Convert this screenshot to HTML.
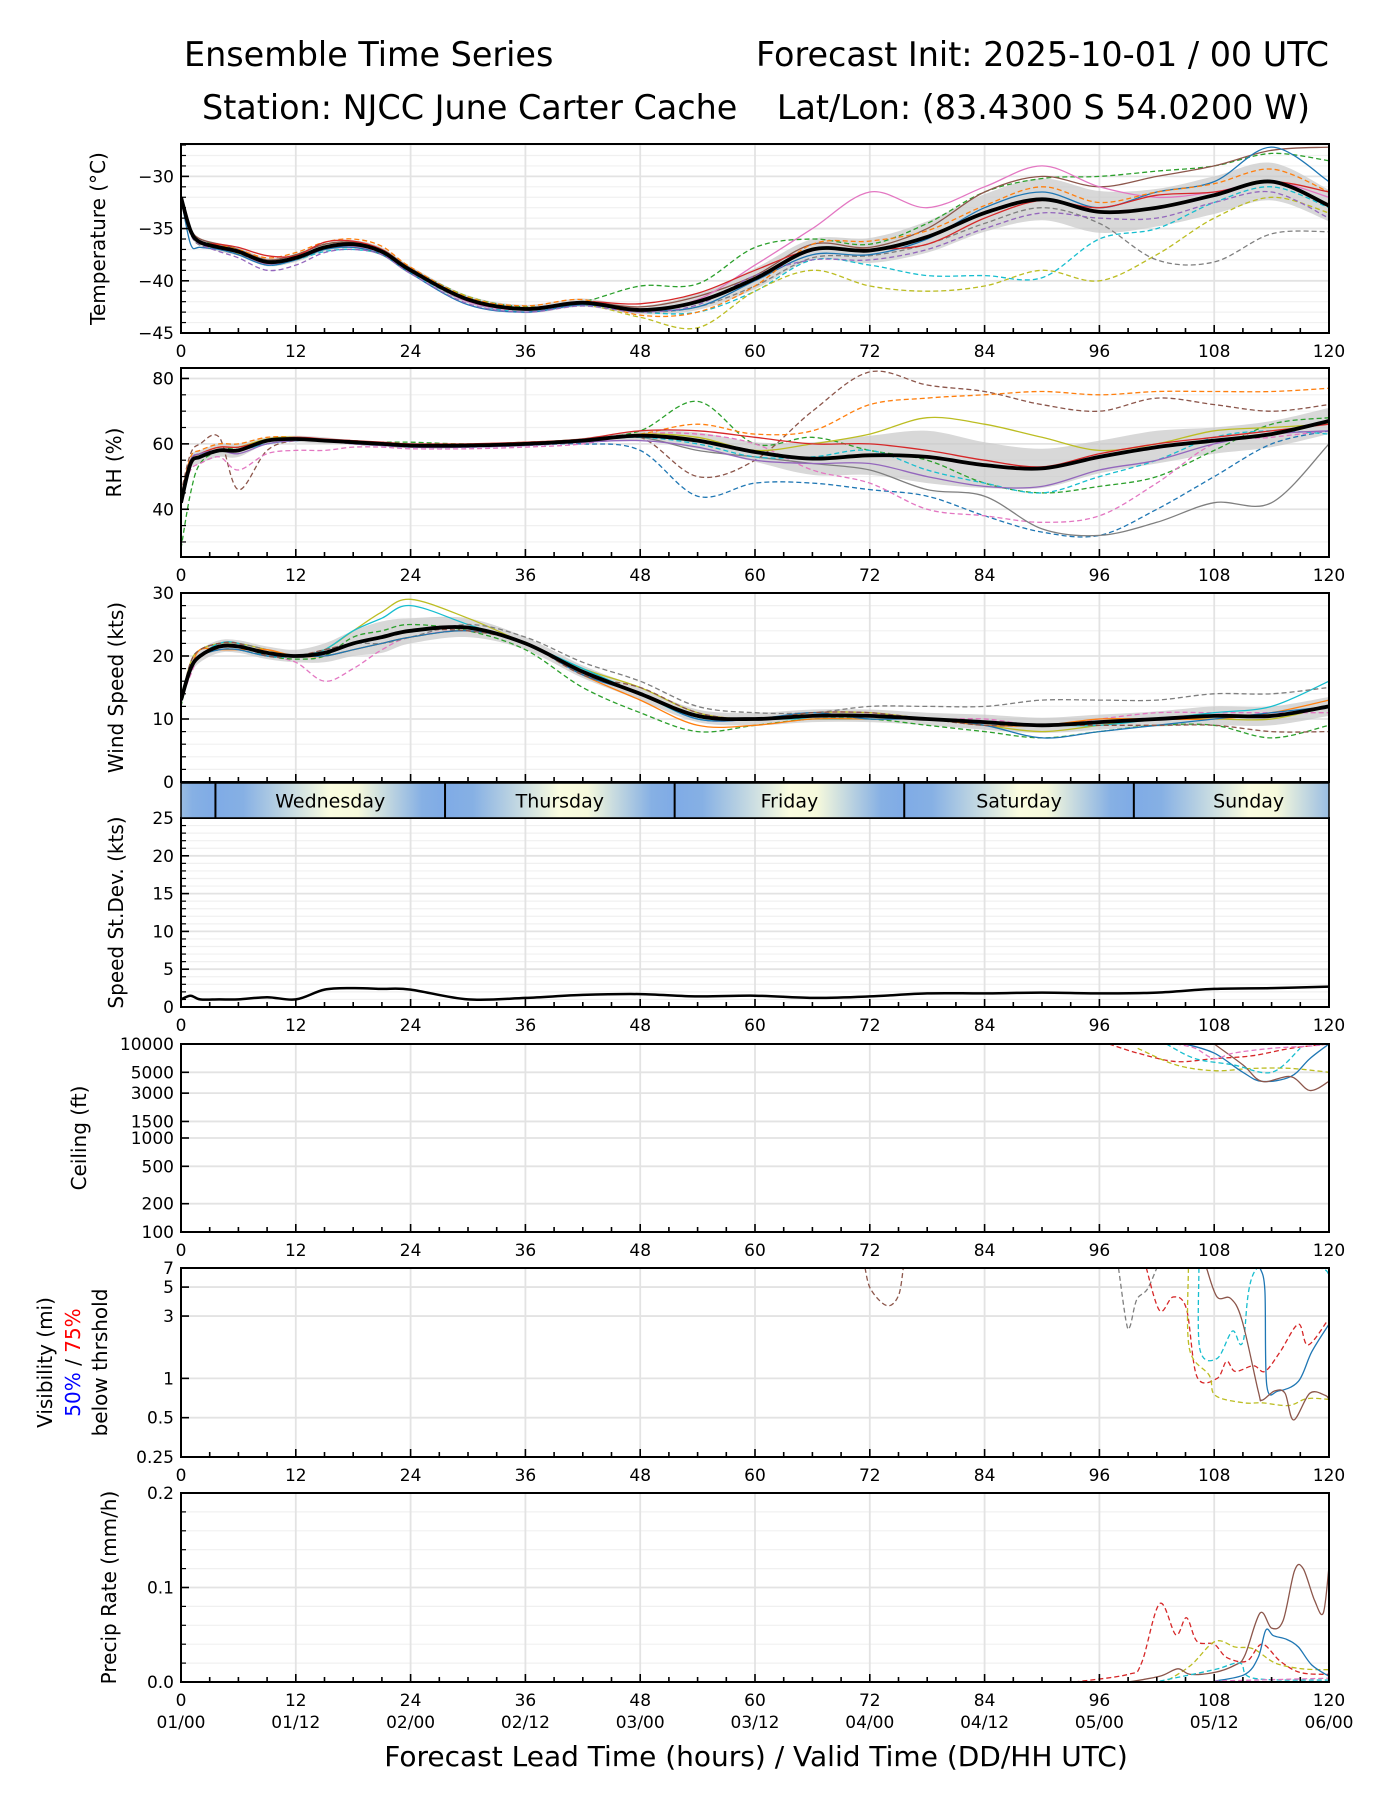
<!DOCTYPE html>
<html><head><meta charset="utf-8">
<style>
html,body{margin:0;padding:0;background:#fff;}
svg{display:block;font-family:"DejaVu Sans","Liberation Sans",sans-serif;}
</style></head>
<body>
<svg id="fig" width="1400" height="1800" viewBox="0 0 1400 1800">
<text x="184" y="66" font-size="33.4">Ensemble Time Series</text>
<text x="1329" y="66" font-size="33.4" text-anchor="end">Forecast Init: 2025-10-01 / 00 UTC</text>
<text x="202" y="119" font-size="33.4">Station: NJCC June Carter Cache</text>
<text x="1310" y="119" font-size="33.4" text-anchor="end">Lat/Lon: (83.4300 S 54.0200 W)</text>
<text x="756" y="1766" font-size="28" text-anchor="middle">Forecast Lead Time (hours) / Valid Time (DD/HH UTC)</text>
</svg>
<script>
const HRS = [0,1,2,4,6,9,12,15,18,21,24,30,36,42,48,54,60,66,72,78,84,90,96,102,108,114,120];
const xTicks = [0,12,24,36,48,60,72,84,96,108,120];
const dateLabels = ["01/00","01/12","02/00","02/12","03/00","03/12","04/00","04/12","05/00","05/12","06/00"];
const dayNames = ["Wednesday","Thursday","Friday","Saturday","Sunday"];
const dayBounds = [-20.4,3.6,27.6,51.6,75.6,99.6,123.6];

// Temperature
const tempMean = [-32,-35.2,-36.3,-36.8,-37.2,-38.2,-37.8,-36.8,-36.5,-37.2,-39,-41.8,-42.7,-42.1,-42.8,-42,-39.8,-37,-37.1,-35.8,-33.5,-32.2,-33.4,-33,-31.8,-30.5,-32.8];
const tempSpread = [0.3,0.4,0.4,0.4,0.4,0.4,0.4,0.4,0.4,0.4,0.4,0.4,0.4,0.4,0.4,0.8,1,1,1.2,1.5,1.8,2,2,1.8,1.8,1.8,1.5];
const tempM1 = [-32,-35,-36.2,-36.5,-37,-38,-37.5,-36.5,-36.3,-37,-38.8,-41.5,-42.5,-42,-40.5,-40.3,-36.8,-36,-36.5,-34.5,-31.5,-30.2,-30,-29.5,-29,-27.8,-28.5];
const tempM2 = [-32,-35.5,-36.5,-37,-37.3,-38.5,-38,-37.2,-37,-37.5,-39.2,-42,-43,-42.3,-43,-43,-41,-38,-38.5,-39.5,-39.5,-39.7,-36,-35,-32.5,-31,-33];
const tempM3 = [-32,-35.3,-36.5,-37,-37.4,-38.4,-38,-37,-36.8,-37.5,-39,-41.5,-42.7,-42.3,-43.5,-44.5,-41,-39,-40.5,-41,-40.5,-39,-40,-37.5,-34,-32,-33.5];
const tempM4 = [-32,-35,-36,-36.5,-37,-38,-37.5,-36.5,-36.3,-37,-38.8,-41.7,-42.6,-42,-42.5,-41.5,-39.5,-36.5,-36.8,-35,-31.5,-30,-31,-30,-29,-27.5,-27.2];
const tempM5 = [-32,-35.5,-36.6,-37,-37.5,-38.3,-37.9,-37,-36.8,-37.4,-39.1,-42,-42.8,-42.2,-43,-42.5,-40.5,-37.8,-37.6,-36.5,-34.5,-33,-34.5,-38,-38.2,-35.5,-35.3];
const tempM6 = [-32,-35.2,-36.4,-36.8,-37.3,-38.4,-37.9,-36.9,-36.7,-37.3,-39,-42,-42.8,-42.1,-42.8,-41.8,-38.5,-35,-31.5,-33,-31,-29,-31,-32,-31.5,-30.5,-32];
const tempM7 = [-32,-36.5,-36.8,-37,-37.5,-38.5,-38,-37,-36.8,-37.5,-39.3,-42.3,-43,-42.3,-42.8,-42.5,-40,-37.5,-37.5,-36,-33,-31.5,-33,-31.5,-30.5,-27.2,-30.5];
const tempM8 = [-32,-35,-36.2,-36.6,-37,-37.8,-37.3,-36.3,-36,-36.7,-38.7,-41.6,-42.4,-41.8,-43.3,-43,-40.5,-36.5,-36.2,-35.2,-32.8,-31,-32.5,-31.5,-30.7,-29.3,-31.5];
const tempM9 = [-32,-35.2,-36.3,-36.5,-36.8,-37.6,-37.6,-36.3,-36.2,-37,-38.9,-41.8,-42.6,-42,-42.2,-41.2,-39,-37,-37,-36.5,-34,-32.3,-33,-31.8,-31.5,-30.5,-31.5];
const tempM10 = [-32,-35.5,-36.5,-37.2,-37.8,-39,-38.5,-37.3,-37,-37.5,-39.3,-42.2,-43,-42.4,-43,-42.3,-39.5,-38,-38,-37,-35,-33.5,-34,-34,-32.5,-31.5,-34];

// RH
const rhMean = [42,54,56,58,58,61,61.5,61,60.5,60,59.5,59.5,60,61,62.5,61,57.5,55.5,56.5,56,53.5,52.5,56,59,61,63,67];
const rhSpread = [2,2,2,2,2,1,1,1,0.5,0.5,0.5,0.5,0.5,0.8,1.5,2.5,3,5,6,8,7,6,5,5,4,4,4];
const rhM1 = [28,45,54,58,59,61,62,61,60.5,60.5,60.5,60,60.5,61.5,64,73,60,62,58,55,48,45,47,50,58,66,68];
const rhM2 = [45,55,57,58,58,60,61,61,60,59.5,59,59,59.5,60,58,44,48,48,46,44,38,33,32,40,50,60,64];
const rhM3 = [45,57,60,62,46,58,61,61,61,60,59,59,60,61,62,50,55,70,82,78,76,72,70,74,72,70,72];
const rhM4 = [44,52,54,56,52,57,58,58,59,59,58.5,58.5,59,60,63,63,60,52,48,40,38,36,38,48,60,62,64];
const rhM5 = [44,56,58,60,60,62,62,61,60,59.5,59,59.5,60,61,63,66,63,64,72,74,75,76,75,76,76,76,77];
const rhM6 = [44,55,57,58,58,61,61.5,61,60.5,60,59.5,59.5,60,61,62,58,56,54,52,46,44,34,32,36,42,42,60];
const rhM7 = [44,55,57,59,59,61.5,62,61,60.5,60,59.5,59.5,60,61,63,62,58,60,63,68,66,62,58,60,64,65,66];
const rhM8 = [44,55,57,58,58,60,61,61,60,59.5,59,59,60,61,62,60,56,56,58,52,48,45,50,55,62,64,63];
const rhM9 = [44,55,57,59,59,61,62,61.5,61,60.5,60,60,60.5,61.5,64,64,62,60,60,58,55,53,57,60,62,64,66];
const rhM10 = [44,55,57,58,57,60,61,61,60,59.5,59,59,59.5,60.5,61,59,55,54,54,50,47,47,52,55,60,63,64];

// Wind
const windMean = [13,18,20,21.5,21.5,20.5,20,20.5,22,23,24,24.5,22,17.5,14,10.5,10,10.5,10.5,10,9.5,9,9.5,10,10.5,10.5,12];
const windSpread = [1,1,1,1,1,1,1,1.5,2,2.5,2,1.5,1,1,1,1,1,1,1,1,1.2,1.2,1.2,1.2,1.5,1.5,1.5];
const windM1 = [13,19,21,22,22,21,20,21,24,27,29,26,22,18,15,11,10,11,11,10,9,8,9,10,10,10,12];
const windM2 = [13,17,20,21,21,20,19,16,18,21,23,24,22,17,14,10,10,11,11,10,10,9,10,11,11,11,11];
const windM3 = [12,18,20,21,21,20,19.5,20,23,24,25,24,21,15,11,8,9,10,10,9,8,7,8,9,9,7,9];
const windM4 = [13,18,20,22,22,20,20,21,24,26,28,25,22,18,14,10,10,10,10,10,9,9,9,10,11,12,16];
const windM5 = [13,19,21,22,22,21,20,21,22,22,23,25,23,19,16,12,11,11,12,12,12,13,13,13,14,14,15];
const windM6 = [13,18,21,21,21,21,20,20,21,22,23,24,22,17,13,9,9,10,10,10,9,9,10,10,10,11,13];
const windM7 = [13,18,20,21,21,20,20,20,21,22,23,24,22,17,14,10,10,11,10,10,9,7,8,9,10,11,12];
const windM8 = [13,19,21,22,22,20,20,21,22,23,24,24,22,17,15,11,10,11,11,10,9,9,9,9,9,8,8];

// Speed std dev
const sdVals = [1,1.5,1,1,1,1.3,1,2.3,2.5,2.4,2.3,1,1.2,1.6,1.7,1.4,1.5,1.2,1.4,1.8,1.8,1.9,1.8,1.9,2.4,2.5,2.7];

// Ceiling (ft)
const ceilH1 = [97,100,104,108,112,116,120];
const ceilV1 = [10000,8000,6500,7000,7500,9000,10000];
const ceilH2 = [100,104,108,112,116,120];
const ceilV2 = [9000,6000,5200,5500,5500,5000];
const ceilH3 = [105,108,111,113,116,118,120];
const ceilV3 = [10000,8000,5000,4000,4500,7000,10000];
const ceilH4 = [108,111,113,116,118,120];
const ceilV4 = [10000,6000,4000,4500,3200,4000];
const ceilH5 = [103,106,110,114,117];
const ceilV5 = [10000,7000,6000,5000,9000];
const ceilH6 = [104,106,108,110,114,118,120];
const ceilV6 = [10000,9000,7000,8000,9000,9500,10000];

// Visibility (mi)
const visH1 = [71.5,72.1,73.8,75,75.5];
const visV1 = [7,4.8,3.6,4.3,7];
const visH2 = [98,98.8,99.2,99.9,101,102];
const visV2 = [7,2.7,2.5,4,4.8,7];
const visH3 = [100.9,102.3,103.7,105.1,106.2,108.3,109.3,110.2,112.1,113.3,114.9,116.8,117.8,119.9];
const visV3 = [7,3.3,4.2,3.4,1.03,1.0,1.35,1.13,1.25,1.13,1.6,2.6,1.8,2.8];
const visH4 = [105.3,105.4,107.5,108.1,111.1,113,115.8,117.7,120];
const visV4 = [7,1.7,1.05,0.74,0.65,0.65,0.62,0.7,0.69];
const visH5 = [106.4,106.5,108.3,109.9,111,112.5,119,120];
const visV5 = [7,1.68,1.42,2.3,1.9,7,7,5.8];
const visH6 = [112.8,113.3,113.5,114.7,116.8,118.2,120];
const visV6 = [7,4.7,0.88,0.8,0.95,1.6,2.6];
const visH7 = [107.2,108.3,109.7,110.9,112.6,113,114.3,115.4,116.3,118,119.6,120];
const visV7 = [7,4.2,4.1,2.8,0.8,0.68,0.8,0.77,0.48,0.77,0.74,0.69];

// Precip rate (mm/h)
const prH1 = [93.4,99,100.4,102.3,104,105.1,106.2,108,109.3,111.4,113,114.9,117,120];
const prV1 = [0,0.008,0.02,0.083,0.05,0.068,0.043,0.04,0.026,0.022,0.04,0.022,0.01,0.008];
const prH2 = [103.2,105.6,108.1,110.2,112.1,114.4,117.2,120];
const prV2 = [0.002,0.018,0.043,0.037,0.035,0.02,0.014,0.013];
const prH3 = [99,102.3,104.2,105.5,108,110.2,111.2,112.8,114,115.2,116.4,117.3,118.5,119.4,120];
const prV3 = [0,0.006,0.014,0.008,0.01,0.018,0.028,0.073,0.057,0.065,0.118,0.12,0.086,0.073,0.122];
const prH4 = [108,111.2,112.6,113.4,114.2,115.6,116.8,118.2,120];
const prV4 = [0.001,0.008,0.026,0.055,0.049,0.045,0.037,0.018,0.006];
const prH5 = [102.3,108,110.7,112.1,120];
const prV5 = [0.001,0.013,0.02,0.004,0.002];
const prH6 = [108,120];
const prV6 = [0.001,0.004];

const C = {blue:'#1f77b4',orange:'#ff7f0e',green:'#2ca02c',red:'#d62728',purple:'#9467bd',brown:'#8c564b',pink:'#e377c2',gray:'#7f7f7f',olive:'#bcbd22',cyan:'#17becf'};
const NS = 'http://www.w3.org/2000/svg';
const svg = document.getElementById('fig');
const X0 = 181, X1 = 1329;
function xs(h){ return X0 + h/120*(X1-X0); }
function ys(p,v){
  if(p.log){ return p.bot - (Math.log(v)-Math.log(p.ymin))/(Math.log(p.ymax)-Math.log(p.ymin))*(p.bot-p.top); }
  return p.bot - (v-p.ymin)/(p.ymax-p.ymin)*(p.bot-p.top);
}
function mk(tag, attrs, parent){
  const el = document.createElementNS(NS, tag);
  for(const k in attrs) el.setAttribute(k, attrs[k]);
  (parent||svg).appendChild(el);
  return el;
}
function smooth(pts){
  if(pts.length<2) return '';
  let d = 'M'+pts[0][0].toFixed(1)+','+pts[0][1].toFixed(1);
  for(let i=0;i<pts.length-1;i++){
    const p0 = pts[i-1]||pts[i], p1 = pts[i], p2 = pts[i+1], p3 = pts[i+2]||p2;
    const t = 6;
    const c1 = [p1[0]+(p2[0]-p0[0])/t, p1[1]+(p2[1]-p0[1])/t];
    const c2 = [p2[0]-(p3[0]-p1[0])/t, p2[1]-(p3[1]-p1[1])/t];
    d += 'C'+c1[0].toFixed(1)+','+c1[1].toFixed(1)+' '+c2[0].toFixed(1)+','+c2[1].toFixed(1)+' '+p2[0].toFixed(1)+','+p2[1].toFixed(1);
  }
  return d;
}

const panels = [
  {key:'temperature', top:144, bot:333, ymin:-45, ymax:-26.9, major:[-45,-40,-35,-30], minor:[-44,-43,-42,-41,-39,-38,-37,-36,-34,-33,-32,-31,-29,-28,-27], labels:['−45','−40','−35','−30'], xlabels:true, ylabel:['Temperature (°C)'], lx:105},
  {key:'rh', top:368, bot:557, ymin:25.4, ymax:83.2, major:[40,60,80], minor:[30,35,45,50,55,65,70,75], labels:['40','60','80'], xlabels:true, ylabel:['RH (%)'], lx:121},
  {key:'wind', top:593, bot:782, ymin:0, ymax:30, major:[0,10,20,30], minor:[2,4,6,8,12,14,16,18,22,24,26,28], labels:['0','10','20','30'], xlabels:false, ylabel:['Wind Speed (kts)'], lx:123},
  {key:'speed-stdev', top:818, bot:1007, ymin:0, ymax:25, major:[0,5,10,15,20,25], minor:[1,2,3,4,6,7,8,9,11,12,13,14,16,17,18,19,21,22,23,24], labels:['0','5','10','15','20','25'], xlabels:true, ylabel:['Speed St.Dev. (kts)'], lx:123},
  {key:'ceiling', top:1044, bot:1232, ymin:100, ymax:10000, log:true, major:[100,200,500,1000,1500,3000,5000,10000], minor:[], labels:['100','200','500','1000','1500','3000','5000','10000'], xlabels:true, ylabel:['Ceiling (ft)'], lx:86},
  {key:'visibility', top:1268, bot:1457, ymin:0.25, ymax:7, log:true, major:[0.25,0.5,1,3,5,7], minor:[], labels:['0.25','0.5','1','3','5','7'], xlabels:true, ylabel:null, lx:80},
  {key:'precip', top:1493, bot:1682, ymin:0, ymax:0.2, major:[0,0.1,0.2], minor:[0.02,0.04,0.06,0.08,0.12,0.14,0.16,0.18], labels:['0.0','0.1','0.2'], xlabels:true, ylabel:['Precip Rate (mm/h)'], lx:116, dates:true}
];

function drawFrame(p){
  const g = mk('g', {});
  
  
  const cp = mk('clipPath', {id:'clip-'+p.key}, g);
  mk('rect', {x:X0, y:p.top, width:X1-X0, height:p.bot-p.top}, cp);
  p.minor.forEach(v=>{
    const y = ys(p,v);
    const l = mk('line', {x1:X0, x2:X1, y1:y, y2:y, stroke:'#f0f0f0', 'stroke-width':1.2}, g);
    
    
  });
  p.major.forEach(v=>{
    const y = ys(p,v);
    const l = mk('line', {x1:X0, x2:X1, y1:y, y2:y, stroke:'#e3e3e3', 'stroke-width':1.8}, g);
    
    
  });
  xTicks.forEach(h=>{
    const x = xs(h);
    const l = mk('line', {x1:x, x2:x, y1:p.top, y2:p.bot, stroke:'#e3e3e3', 'stroke-width':1.8}, g);
    
    
  });
  const plot = mk('g', {'clip-path':'url(#clip-'+p.key+')'}, g);
  
  
  p.plot = plot; p.g = g;
}
function drawAxes(p){
  const g = p.g;
  for(let h=0;h<=120;h+=3){
    const x = xs(h), len = (h%12===0)?8:5;
    const t = mk('line', {x1:x, x2:x, y1:p.bot, y2:p.bot-len, stroke:'#000', 'stroke-width':1.6}, g);
    
    
  }
  p.major.forEach((v,i)=>{
    const y = ys(p,v);
    const t = mk('line', {x1:X0, x2:X0+8, y1:y, y2:y, stroke:'#000', 'stroke-width':1.6}, g);
    
    
    const tl = mk('text', {x:X0-7, y:y+6, 'font-size':17, 'text-anchor':'end'}, g);
    tl.textContent = p.labels[i];
    
    
  });
  p.minor.forEach(v=>{
    const y = ys(p,v);
    const t = mk('line', {x1:X0, x2:X0+5, y1:y, y2:y, stroke:'#000', 'stroke-width':1.2}, g);
    
    
  });
  const fr = mk('rect', {x:X0, y:p.top, width:X1-X0, height:p.bot-p.top, fill:'none', stroke:'#000', 'stroke-width':2}, g);
  
  
  if(p.xlabels){
    xTicks.forEach((h,i)=>{
      const t = mk('text', {x:xs(h), y:p.bot+24, 'font-size':17, 'text-anchor':'middle'}, g);
      t.textContent = String(h);
      
      
      if(p.dates){
        const d = mk('text', {x:xs(h), y:p.bot+46, 'font-size':17, 'text-anchor':'middle'}, g);
        d.textContent = dateLabels[i];
        
        
      }
    });
  }
  const cy = (p.top+p.bot)/2;
  if(p.ylabel){
    const t = mk('text', {x:p.lx, y:cy, 'font-size':20, 'text-anchor':'middle', transform:'rotate(-90 '+p.lx+' '+cy+')'}, g);
    t.textContent = p.ylabel[0];
    
    
  } else {
    const t1 = mk('text', {x:52, y:cy, 'font-size':20, 'text-anchor':'middle', transform:'rotate(-90 52 '+cy+')'}, g);
    t1.textContent = 'Visibility (mi)';
    
    
    const t2 = mk('text', {x:80, y:cy, 'font-size':20, 'text-anchor':'middle', transform:'rotate(-90 80 '+cy+')'}, g);
    const s1 = mk('tspan', {fill:'#0000ff'}, t2); s1.textContent = '50%';
    const s2 = mk('tspan', {fill:'#000'}, t2); s2.textContent = ' / ';
    const s3 = mk('tspan', {fill:'#ff0000'}, t2); s3.textContent = '75%';
    
    
    const t3 = mk('text', {x:107, y:cy, 'font-size':20, 'text-anchor':'middle', transform:'rotate(-90 107 '+cy+')'}, g);
    t3.textContent = 'below thrshold';
    
    
  }
}
function series(p, hours, vals, color, dashed, width, name){
  const pts = hours.map((h,i)=>[xs(h), ys(p, vals[i])]);
  const el = mk('path', {d:smooth(pts), fill:'none', stroke:color, 'stroke-width':width, 'stroke-dasharray':dashed?'5,3':'none', 'stroke-linejoin':'round'}, p.plot);
  
  
  return el;
}
function band(p, hours, mean, spread, name){
  const up = hours.map((h,i)=>[xs(h), ys(p, mean[i]+spread[i])]);
  const lo = hours.map((h,i)=>[xs(h), ys(p, mean[i]-spread[i])]).reverse();
  let d = smooth(up) + 'L' + lo[0][0]+','+lo[0][1] + smooth(lo).replace(/^M[^C]*/,'') + 'Z';
  const el = mk('path', {d:d, fill:'#c8c8c8', 'fill-opacity':0.7, stroke:'none'}, p.plot);
  
  
}

panels.forEach(drawFrame);
const [PT, PR, PW, PS, PC, PV, PP] = panels;

band(PT, HRS, tempMean, tempSpread, 'temperature-spread-band');
const tempMembers = [tempM1,tempM2,tempM3,tempM4,tempM5,tempM6,tempM7,tempM8,tempM9,tempM10];
const tempStyles = [[C.green,1],[C.cyan,1],[C.olive,1],[C.brown,0],[C.gray,1],[C.pink,0],[C.blue,0],[C.orange,1],[C.red,0],[C.purple,1]];
tempMembers.forEach((m,i)=>series(PT, HRS, m, tempStyles[i][0], tempStyles[i][1], 1.3, 'temperature-member-line'));
series(PT, HRS, tempMean, '#000', 0, 3.8, 'temperature-ensemble-mean');

band(PR, HRS, rhMean, rhSpread, 'rh-spread-band');
const rhMembers = [rhM1,rhM2,rhM3,rhM4,rhM5,rhM6,rhM7,rhM8,rhM9,rhM10];
const rhStyles = [[C.green,1],[C.blue,1],[C.brown,1],[C.pink,1],[C.orange,1],[C.gray,0],[C.olive,0],[C.cyan,1],[C.red,0],[C.purple,0]];
rhMembers.forEach((m,i)=>series(PR, HRS, m, rhStyles[i][0], rhStyles[i][1], 1.3, 'rh-member-line'));
series(PR, HRS, rhMean, '#000', 0, 3.8, 'rh-ensemble-mean');

band(PW, HRS, windMean, windSpread, 'wind-spread-band');
const windMembers = [windM1,windM2,windM3,windM4,windM5,windM6,windM7,windM8];
const windStyles = [[C.olive,0],[C.pink,1],[C.green,1],[C.cyan,0],[C.gray,1],[C.orange,0],[C.blue,0],[C.brown,1]];
windMembers.forEach((m,i)=>series(PW, HRS, m, windStyles[i][0], windStyles[i][1], 1.3, 'wind-member-line'));
series(PW, HRS, windMean, '#000', 0, 3.8, 'wind-ensemble-mean');

series(PS, HRS, sdVals, '#000', 0, 2.5, 'speed-stdev-line');

const ceilSeries = [[ceilH1,ceilV1,C.red,1],[ceilH2,ceilV2,C.olive,1],[ceilH3,ceilV3,C.blue,0],[ceilH4,ceilV4,C.brown,0],[ceilH5,ceilV5,C.cyan,1],[ceilH6,ceilV6,C.pink,1]];
ceilSeries.forEach(s=>series(PC, s[0], s[1], s[2], s[3], 1.3, 'ceiling-member-line'));

const visSeries = [[visH1,visV1,C.brown,1],[visH2,visV2,C.gray,1],[visH3,visV3,C.red,1],[visH4,visV4,C.olive,1],[visH5,visV5,C.cyan,1],[visH6,visV6,C.blue,0],[visH7,visV7,C.brown,0]];
visSeries.forEach(s=>series(PV, s[0], s[1], s[2], s[3], 1.3, 'visibility-member-line'));

const prSeries = [[prH1,prV1,C.red,1],[prH2,prV2,C.olive,1],[prH3,prV3,C.brown,0],[prH4,prV4,C.blue,0],[prH5,prV5,C.cyan,1],[prH6,prV6,C.pink,1]];
prSeries.forEach(s=>series(PP, s[0], s[1], s[2], s[3], 1.3, 'precip-member-line'));

panels.forEach(drawAxes);

const BT = 783, BB = 818;
const bandG = mk('g', {});


const defs = mk('defs', {}, bandG);
const lg = mk('linearGradient', {id:'dayGrad', x1:0, x2:1, y1:0, y2:0}, defs);
[[0,'#7fabe6'],[0.12,'#86b0e4'],[0.5,'#fbfde0'],[0.62,'#f6f9dc'],[0.9,'#86b0e4'],[1,'#7fabe6']].forEach(s=>mk('stop', {offset:s[0], 'stop-color':s[1]}, lg));
const bcp = mk('clipPath', {id:'clip-band'}, defs);
mk('rect', {x:X0, y:BT, width:X1-X0, height:BB-BT}, bcp);
const bInner = mk('g', {'clip-path':'url(#clip-band)'}, bandG);
for(let i=0;i<dayBounds.length-1;i++){
  const xa = xs(dayBounds[i]), xb = xs(dayBounds[i+1]);
  const r = mk('rect', {x:xa, y:BT, width:xb-xa, height:BB-BT, fill:'url(#dayGrad)'}, bInner);
  
  
  if(i>0){
    const t = mk('text', {x:(xa+xb)/2, y:(BT+BB)/2+7, 'font-size':19, 'text-anchor':'middle'}, bInner);
    t.textContent = dayNames[i-1];
    
    
    const l = mk('line', {x1:xa, x2:xa, y1:BT, y2:BB, stroke:'#000', 'stroke-width':2}, bInner);
    
    
  }
}
const bf = mk('rect', {x:X0, y:BT, width:X1-X0, height:BB-BT, fill:'none', stroke:'#000', 'stroke-width':1.5}, bandG);


</script>
</body></html>
